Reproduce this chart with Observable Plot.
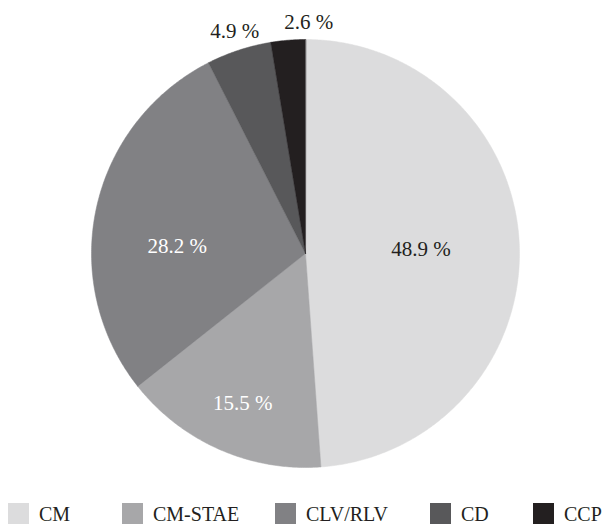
<!DOCTYPE html>
<html>
<head>
<meta charset="utf-8">
<script src="https://cdn.jsdelivr.net/npm/d3@7"></script>
<script src="https://cdn.jsdelivr.net/npm/@observablehq/plot@0.6"></script>
<style>
  html, body { margin: 0; padding: 0; background: #fff; }
  #wrap { position: relative; width: 608px; height: 525px; font-family: "Liberation Serif", "DejaVu Serif", serif; }
  #wrap svg text { font-family: "Liberation Serif", "DejaVu Serif", serif !important; }
  #legend { position: absolute; top: 503px; left: 0; width: 608px; height: 22px; }
  .item { position: absolute; top: 0; display: flex; align-items: center; height: 21px; }
  .sw { width: 21px; height: 21px; margin-right: 10px; }
  .lb { font-size: 20px; color: #231f20; line-height: 21px; position: relative; top: 1px; }
</style>
</head>
<body>
<div id="wrap"></div>
<script>
// ---- data ----
const categories = ["CM", "CM-STAE", "CLV/RLV", "CD", "CCP"];
const values = [48.9, 15.5, 28.2, 4.9, 2.6];
const labels = ["48.9 %", "15.5 %", "28.2 %", "4.9 %", "2.6 %"];
const colors = ["#dcdcdd", "#a7a7a9", "#818184", "#58585a", "#231f20"];

// ---- layout (code, not data) ----
const cx = 305, cy = 253, R = 214;
const labelLayout = {
  "CM":      {r: 0.54, da: 0,   fill: "#231f20"},
  "CM-STAE": {r: 0.76, da: -1,  fill: "#ffffff"},
  "CLV/RLV": {r: 0.60, da: -9,  fill: "#ffffff"},
  "CD":      {r: 1.09, da: 0.5, fill: "#231f20"},
  "CCP":     {r: 1.08, da: 5.5, fill: "#231f20"}
};
const legendLeft = [8, 122, 275, 430, 533];

const total = d3.sum(values);
let acc = 0;
const slicePts = [];
const labelPts = [];
categories.forEach((c, i) => {
  const a0 = acc / total * 2 * Math.PI;
  acc += values[i];
  const a1 = acc / total * 2 * Math.PI;
  slicePts.push({cat: c, x: 0, y: 0});
  const n = Math.max(2, Math.ceil((a1 - a0) / (Math.PI / 360)));
  for (let k = 0; k <= n; k++) {
    const a = a0 + (a1 - a0) * k / n;
    slicePts.push({cat: c, x: Math.sin(a), y: Math.cos(a)});
  }
  const L = labelLayout[c];
  const am = (a0 + a1) / 2 + L.da * Math.PI / 180;
  labelPts.push({cat: c, text: labels[i], x: L.r * Math.sin(am), y: L.r * Math.cos(am), fill: L.fill});
});

const font = "Liberation Serif";
const chart = Plot.plot({
  width: 608,
  height: 495,
  margin: 0,
  style: {background: "transparent", fontFamily: "'Liberation Serif', serif"},
  x: {type: "linear", domain: [-1, 1], range: [cx - R, cx + R], axis: null},
  y: {type: "linear", domain: [-1, 1], range: [cy + R, cy - R], axis: null},
  color: {domain: categories, range: colors},
  marks: [
    Plot.line(slicePts, {x: "x", y: "y", z: "cat", fill: "cat", stroke: "cat", strokeWidth: 0.5, curve: "linear-closed"}),
    Plot.text(labelPts.filter(d => d.fill !== "#ffffff"), {x: "x", y: "y", text: "text", fill: "#231f20", fontSize: 21}),
    Plot.text(labelPts.filter(d => d.fill === "#ffffff"), {x: "x", y: "y", text: "text", fill: "#ffffff", fontSize: 21})
  ]
});

const wrap = document.getElementById("wrap");
wrap.appendChild(chart);

const legend = document.createElement("div");
legend.id = "legend";
categories.forEach((c, i) => {
  const it = document.createElement("div");
  it.className = "item";
  it.style.left = legendLeft[i] + "px";
  const sw = document.createElement("div");
  sw.className = "sw";
  sw.style.background = colors[i];
  const lb = document.createElement("span");
  lb.className = "lb";
  lb.textContent = c;
  it.appendChild(sw);
  it.appendChild(lb);
  legend.appendChild(it);
});
wrap.appendChild(legend);
</script>
</body>
</html>
